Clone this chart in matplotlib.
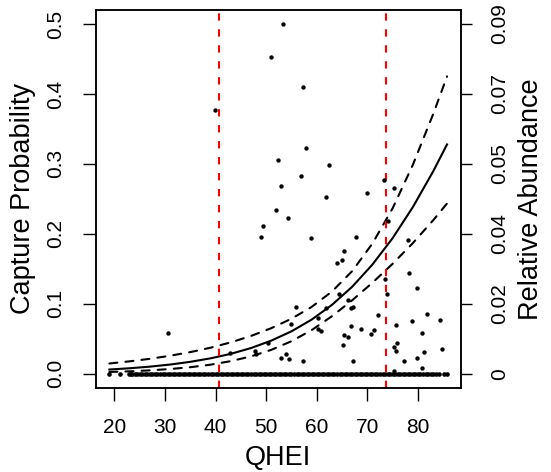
import matplotlib
matplotlib.use("Agg")
import matplotlib.pyplot as plt

plt.rcParams['font.family'] = ['Liberation Sans', 'DejaVu Sans']
plt.rcParams['lines.scale_dashes'] = False

# fitted capture probability curve and its confidence band
curve_qhei = [19, 23, 27, 31, 35, 39, 43, 47, 51, 55, 59, 63, 67, 71, 75, 79, 83, 85.75]
fit_prob = [0.0060, 0.0078, 0.0101, 0.0131, 0.0170, 0.0220, 0.0284, 0.0367, 0.0473,
            0.0606, 0.0774, 0.0984, 0.1243, 0.1561, 0.1939, 0.2383, 0.2892, 0.3278]
upper_prob = [0.0146, 0.0177, 0.0213, 0.0257, 0.0309, 0.0372, 0.0448, 0.0540, 0.0651,
              0.0786, 0.0956, 0.1175, 0.1467, 0.1861, 0.2366, 0.2988, 0.3710, 0.4250]
lower_prob = [0.0025, 0.0034, 0.0048, 0.0067, 0.0093, 0.0129, 0.0180, 0.0248, 0.0341,
              0.0465, 0.0624, 0.0822, 0.1050, 0.1301, 0.1572, 0.1868, 0.2193, 0.2434]

# QHEI thresholds
thresholds = [40.7, 73.6]

# sites where the species was caught
catch_qhei = [30.5, 39.96, 42.9, 47.7, 48.0, 48.9, 49.4, 50.4, 50.9, 51.9, 52.4, 52.9,
              53.4, 52.9, 53.9, 54.5, 54.4, 54.9, 55.9, 56.8, 57.35, 57.9, 57.35, 58.9,
              60.3, 60.3, 60.8, 61.9, 61.9, 62.4, 63.9, 64.4, 64.9, 65.2, 65.3, 65.3,
              66.1, 66.2, 66.8, 67.2, 66.8, 67.2, 67.8, 68.8, 69.9, 70.8, 71.4, 72.2,
              73.3, 73.5, 73.8, 74.15, 75.3, 75.2, 75.8, 75.7, 75.7, 75.3, 77.3, 78.1,
              78.3, 78.8, 79.8, 79.8, 80.8, 80.8, 81.2, 81.8, 84.3, 84.8]
catch_abund = [0.0104, 0.0679, 0.0053, 0.0059, 0.0052, 0.0353, 0.0380, 0.0080, 0.0814, 0.0421, 0.0549, 0.0482,
               0.0900, 0.0040, 0.0051, 0.0038, 0.0401, 0.0129, 0.0172, 0.0509, 0.0738, 0.0581, 0.0034, 0.0349,
               0.0143, 0.0115, 0.0110, 0.0169, 0.0455, 0.0538, 0.0286, 0.0204, 0.0292, 0.0073, 0.0315, 0.0100,
               0.0189, 0.0095, 0.0170, 0.0171, 0.0122, 0.0034, 0.0353, 0.0115, 0.0466, 0.0101, 0.0113, 0.0152,
               0.0499, 0.0243, 0.0204, 0.0392, 0.0479, 0.0068, 0.0079, 0.0059, 0.0126, 0.0007, 0.0034, 0.0344,
               0.0259, 0.0135, 0.0221, 0.0041, 0.0104, 0.0014, 0.0055, 0.0153, 0.0139, 0.0064]

# sites with no catch (abundance 0)
zero_qhei = [19, 21, 22.8, 23.2, 23.5,
             24, 24.5, 25, 25.5, 26, 26.5, 27, 27.5, 28, 28.5, 29, 29.5,
             30, 30.5, 31, 31.5, 32, 32.5, 33, 33.5, 34, 34.5, 35, 35.5, 36, 36.5, 37, 37.5, 38, 38.5, 39, 39.5,
             40, 40.5, 41, 41.5, 42, 42.5, 43, 43.5, 44, 44.5, 45, 45.5, 46, 46.5, 47, 47.5, 48, 48.5, 49, 49.5,
             50, 50.5, 51, 51.5, 52, 52.5, 53, 53.5, 54, 54.5, 55, 55.5, 56, 56.5, 57, 57.5, 58, 58.5, 59, 59.5,
             60, 60.5, 61, 61.5, 62, 62.5, 63, 63.5, 64, 64.5, 65, 65.5, 66, 66.5, 67, 67.5, 68, 68.5, 69, 69.5,
             70, 70.5, 71, 71.5, 72, 72.5, 73, 73.5, 74, 74.5, 75, 75.5, 76, 76.5, 77, 77.5, 78, 78.5, 79, 79.5,
             80, 80.5, 81, 81.5, 82, 82.5, 83, 83.6, 84.2, 85.2, 85.7]

left_ticks = [0.0, 0.1, 0.2, 0.3, 0.4, 0.5]
left_labels = ["0.0", "0.1", "0.2", "0.3", "0.4", "0.5"]
right_labels = ["0", "0.02", "0.04", "0.05", "0.07", "0.09"]
x_ticks = [20, 30, 40, 50, 60, 70, 80]

scale = 0.09 / 0.5  # abundance units per probability unit
ylim = (-0.02, 0.52)

fig = plt.figure(figsize=(5.51, 4.72), dpi=100)
ax = fig.add_axes([0.1742, 0.1786, 0.6619, 0.8002])

ax.plot(curve_qhei, upper_prob, color='black', lw=1.5, dashes=(5.8, 5.8), dash_capstyle='round')
ax.plot(curve_qhei, lower_prob, color='black', lw=1.5, dashes=(5.8, 5.8), dash_capstyle='round')
ax.plot(curve_qhei, fit_prob, color='black', lw=1.5)
for t in thresholds:
    ax.axvline(t, color='#FF0000', lw=1.5, dashes=(5.3, 6.2))

ax.set_xlim(16.35, 88.45)
ax.set_ylim(*ylim)
ax.set_xticks(x_ticks)
ax.set_yticks(left_ticks)
ax.set_yticklabels(left_labels)
ax.tick_params(axis='both', direction='out', length=9.5, width=1, labelsize=15, pad=12.5)
for lbl in ax.get_yticklabels():
    lbl.set_rotation(90)
    lbl.set_va('center')
for s in ax.spines.values():
    s.set_linewidth(1.1)

ax.set_xlabel('QHEI', fontsize=19.5)
ax.xaxis.set_label_coords(0.5, -0.186)
ax.xaxis.label.set_va('center')
ax.set_ylabel('Capture Probability', fontsize=19.5)
ax.yaxis.set_label_coords(-0.199, 0.5)
ax.yaxis.label.set_va('center')

ax2 = ax.twinx()
ax2.scatter(zero_qhei, [0] * len(zero_qhei), s=11, color='black', lw=0)
ax2.scatter(catch_qhei, catch_abund, s=10, color='black', lw=0)
ax2.set_ylim(ylim[0] * scale, ylim[1] * scale)
ax2.set_yticks([v * scale for v in left_ticks])
ax2.set_yticklabels(right_labels)
ax2.tick_params(axis='y', direction='out', length=7.7, width=1, labelsize=15, pad=13.5)
for lbl in ax2.get_yticklabels():
    lbl.set_rotation(90)
    lbl.set_va('center')
for s in ax2.spines.values():
    s.set_linewidth(1.1)
ax2.set_ylabel('Relative Abundance', fontsize=19.5, rotation=90)
ax2.yaxis.set_label_coords(1.194, 0.5)
ax2.yaxis.label.set_va('center')

fig.savefig('out.png', dpi=100)
